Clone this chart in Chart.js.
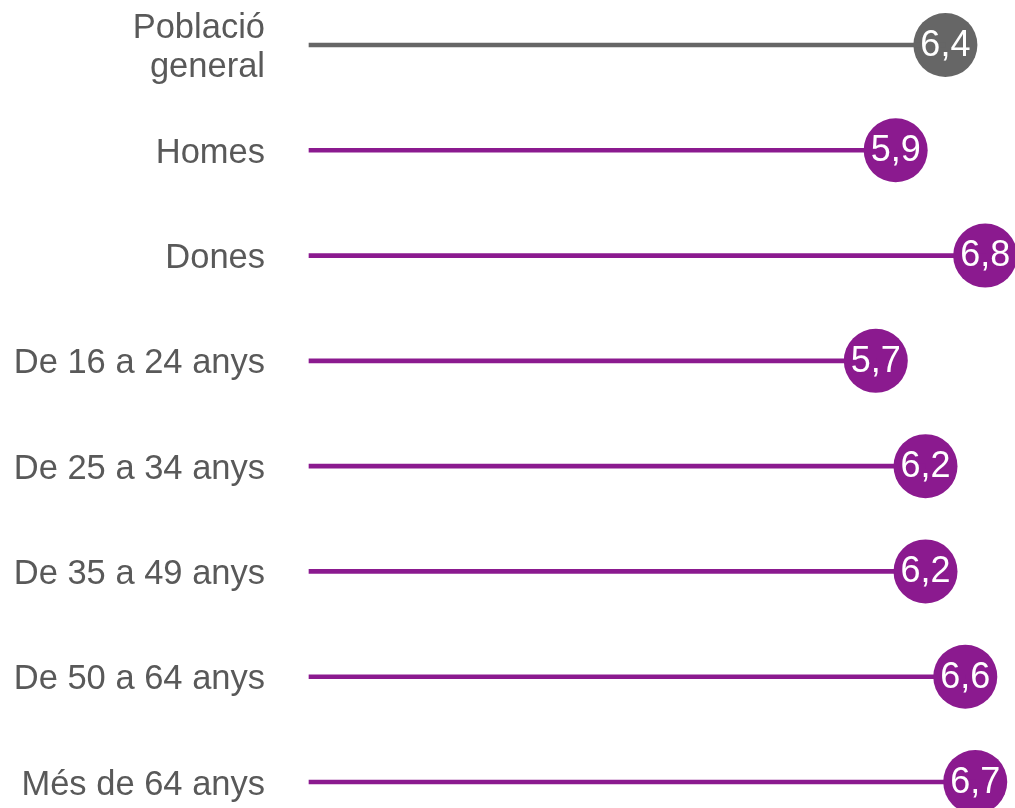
<!DOCTYPE html>
<html>
<head>
<meta charset="utf-8">
<script src="https://cdn.jsdelivr.net/npm/chart.js@4"></script>
<style>
  html, body { margin: 0; padding: 0; background: #fff; }
  #wrap { width: 1015px; height: 808px; position: relative; }
</style>
</head>
<body>
<div id="wrap"><canvas id="lollipopChart"></canvas></div>
<script>
const categories = [
  ["Població", "general"],
  "Homes",
  "Dones",
  "De 16 a 24 anys",
  "De 25 a 34 anys",
  "De 35 a 49 anys",
  "De 50 a 64 anys",
  "Més de 64 anys",
];
const values = [6.4, 5.9, 6.8, 5.7, 6.2, 6.2, 6.6, 6.7];
const colors = ["#666666", "#8b1a8f", "#8b1a8f", "#8b1a8f", "#8b1a8f", "#8b1a8f", "#8b1a8f", "#8b1a8f"];

const fontFamily = "'Liberation Sans', Arial, sans-serif";

// writes the value inside each circle
const circleLabels = {
  id: "circleLabels",
  afterDatasetsDraw(chart) {
    const ctx = chart.ctx;
    const meta = chart.getDatasetMeta(1);
    ctx.save();
    ctx.fillStyle = "#ffffff";
    ctx.font = "36px " + fontFamily;
    ctx.textAlign = "center";
    ctx.textBaseline = "middle";
    meta.data.forEach((pt, i) => {
      ctx.fillText(values[i].toFixed(1).replace(".", ","), pt.x, pt.y + 1);
    });
    ctx.restore();
  },
};

const ctx = document.getElementById("lollipopChart");

new Chart(ctx, {
  type: "bar",
  data: {
    labels: categories,
    datasets: [
      {
        type: "bar",
        data: values,
        backgroundColor: colors,
        barThickness: 4,
        clip: false,
      },
      {
        type: "line",
        data: values,
        showLine: false,
        pointRadius: 32,
        pointHoverRadius: 32,
        pointBackgroundColor: colors,
        pointBorderWidth: 0,
        clip: false,
      },
    ],
  },
  options: {
    indexAxis: "y",
    responsive: true,
    maintainAspectRatio: false,
    animation: false,
    layout: {
      autoPadding: false,
      padding: { top: 45, bottom: 26, left: 0, right: 0 },
    },
    scales: {
      x: {
        display: false,
        min: 0,
        max: 7.1,
      },
      y: {
        offset: false,
        grid: { display: false, drawTicks: false },
        border: { display: false },
        afterFit: (scale) => {
          scale.width = 309;
          scale.paddingTop = 0;
          scale.paddingBottom = 0;
        },
        ticks: {
          color: "#595959",
          padding: 44,
          labelOffset: 3,
          font: { family: fontFamily, size: 34.5, lineHeight: 1.13 },
        },
      },
    },
    plugins: {
      legend: { display: false },
      tooltip: { enabled: false },
    },
  },
  plugins: [circleLabels],
});
</script>
</body>
</html>
